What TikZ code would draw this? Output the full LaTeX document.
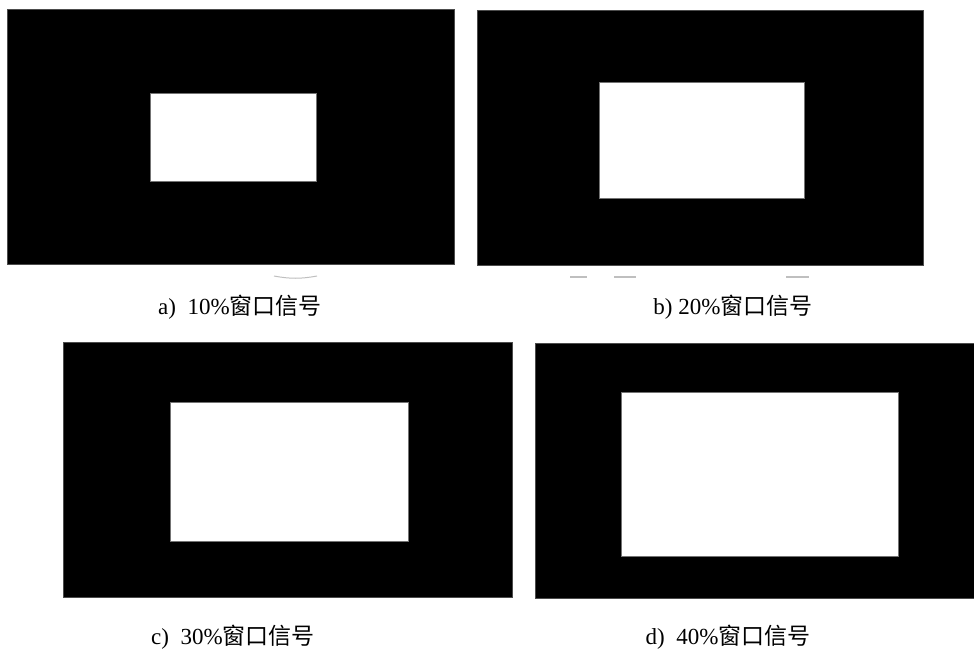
\documentclass[tikz,border=0pt]{standalone}
\usepackage{fontspec}
\setmainfont{Liberation Serif}
\newfontfamily\cjk{Noto Sans CJK SC}
\usetikzlibrary{positioning}

\begin{document}
\begin{tikzpicture}[
    x=1pt, y=-1pt,
    panel/.style={fill=black, draw=black!70, line width=0.6pt, inner sep=0pt, minimum width=#1},
    window/.style={fill=white, draw=black!55, line width=0.5pt, inner sep=0pt},
    caption/.style={inner sep=0pt, font=\fontsize{23}{27}\selectfont},
    smudge/.style={draw=black!25, line width=2pt},
]
\useasboundingbox (0,0) rectangle (974,650);

% black panels with their white windows
\node[panel=447pt, minimum height=254pt] (pa) at (230.5,136.8) {};
\node[window, minimum width=166pt, minimum height=88pt] (wa) at (233.7,137.2) {};
\node[panel=446pt, minimum height=255pt] (pb) at (700,138.2) {};
\node[window, minimum width=205pt, minimum height=116pt] (wb) at (701.5,140) {};
\node[panel=449pt, minimum height=255pt] (pc) at (287.5,469.5) {};
\node[window, minimum width=238pt, minimum height=139pt] (wc) at (289,471.5) {};
\node[panel=439pt, minimum height=255pt] (pd) at (754.5,470.5) {};
\node[window, minimum width=277pt, minimum height=164pt] (wd) at (759.5,474) {};

% faint marks under the upper panels
\draw[smudge] (570,277) -- (587,277);
\draw[smudge] (614,277) -- (636,277);
\draw[smudge] (786,277) -- (809,277);
\draw[draw=black!25, line width=1pt] (274,276) .. controls (290,279) and (301,279) .. (317,276);

% captions
\node[caption] (ca) at (240,307) {a)\enspace 10\%{\cjk 窗口信号}};
\node[caption] (cb) at (733,307) {b) 20\%{\cjk 窗口信号}};
\node[caption] (cc) at (233,637) {c)\enspace 30\%{\cjk 窗口信号}};
\node[caption] (cd) at (728,637) {d)\enspace 40\%{\cjk 窗口信号}};

\end{tikzpicture}
\end{document}
